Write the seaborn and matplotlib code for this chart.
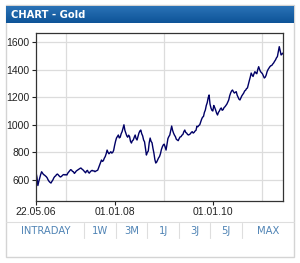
import matplotlib
matplotlib.use("Agg")
import matplotlib.pyplot as plt
import matplotlib.dates as mdates
from matplotlib.patches import Rectangle
from matplotlib.lines import Line2D
import seaborn as sns
import pandas as pd
import numpy as np

# gold price (USD), weekly, 22.05.06 .. early June 2011
prices_2006 = [655, 620, 560, 590, 615, 640, 660, 650, 640, 636, 630, 624, 615, 600, 590, 583,
               578, 590, 600, 615, 625, 630, 640, 643, 635, 628, 622, 625, 632, 638, 640, 636]
prices_2007 = [640, 636, 650, 658, 665, 675, 672, 662, 660, 648, 655, 665, 670, 676, 680, 684,
               687, 680, 675, 668, 660, 652, 665, 670, 655, 650, 660, 666, 670, 665, 667, 660,
               665, 668, 672, 690, 710, 725, 745, 735, 740, 758, 770, 790, 817, 800, 790, 798,
               805, 795, 800, 815]
prices_2008 = [850, 880, 904, 915, 926, 905, 910, 935, 950, 975, 1000, 960, 940, 920, 910, 925,
               915, 880, 868, 885, 890, 910, 926, 900, 890, 915, 940, 955, 962, 935, 920, 890,
               877, 830, 781, 800, 810, 870, 904, 880, 870, 830, 796, 750, 723, 730, 745, 760,
               770, 790, 820, 840, 854]
prices_2009 = [860, 840, 817, 860, 900, 915, 926, 960, 991, 960, 940, 925, 914, 895, 890, 885,
               900, 912, 914, 925, 930, 950, 962, 945, 940, 930, 926, 930, 935, 945, 950, 940,
               945, 955, 960, 990, 986, 995, 1000, 1020, 1040, 1055, 1060, 1090, 1107, 1140, 1160,
               1195, 1216, 1150, 1122, 1105, 1100]
prices_2010 = [1140, 1125, 1107, 1085, 1071, 1090, 1100, 1115, 1122, 1105, 1110, 1125, 1131, 1140,
               1150, 1165, 1180, 1210, 1230, 1245, 1252, 1240, 1230, 1235, 1240, 1215, 1200, 1185,
               1180, 1195, 1210, 1220, 1230, 1245, 1250, 1262, 1267, 1295, 1320, 1345, 1375, 1360,
               1350, 1370, 1385, 1375, 1370, 1400, 1421, 1400, 1385, 1378]
prices_2011 = [1370, 1355, 1339, 1345, 1360, 1385, 1400, 1410, 1421, 1428, 1430, 1440, 1448, 1460,
               1470, 1485, 1494, 1530, 1566, 1535, 1506, 1512, 1520]

start_date = "2006-05-22"
end_date = "2011-06-05"
x_labels = ["22.05.06", "01.01.08", "01.01.10"]
x_label_dates = ["2006-05-22", "2008-01-01", "2010-01-01"]
grid_years = ["2007-01-01", "2008-01-01", "2009-01-01", "2010-01-01", "2011-01-01"]
y_ticks = [600, 800, 1000, 1200, 1400, 1600]
buttons = ["INTRADAY", "1W", "3M", "1J", "3J", "5J", "MAX"]

prices = prices_2006 + prices_2007 + prices_2008 + prices_2009 + prices_2010 + prices_2011
df = pd.DataFrame({"date": pd.date_range(start_date, end_date, periods=len(prices)),
                   "price": prices})

sns.set_style("white")
plt.rcParams['font.family'] = ['Liberation Sans', 'DejaVu Sans']

W, H = 300, 263
fig = plt.figure(figsize=(W / 100, H / 100), dpi=100)

def fx(px):
    return px / W

def fy(py):
    return 1 - py / H

# outer panel border
fig.patches.append(Rectangle((fx(6), fy(257)), fx(288), 252 / H, transform=fig.transFigure,
                             facecolor="none", edgecolor="#d4d4d4", lw=1, zorder=-5))

# header bar with a light gradient
hax = fig.add_axes([fx(6), fy(23), fx(288), 17 / H])
grad = np.linspace(0, 1, 50).reshape(-1, 1)
cmap = matplotlib.colors.LinearSegmentedColormap.from_list("hdr", ["#2a72b6", "#0e5498"])
hax.imshow(grad, aspect="auto", cmap=cmap, extent=[0, 1, 0, 1])
hax.set_axis_off()
hax.text(0.017, 0.5, "CHART - Gold", color="white", fontsize=7.2, fontweight="bold",
         family="DejaVu Sans", va="center", ha="left", transform=hax.transAxes)

# chart
ax = fig.add_axes([fx(36), fy(201), fx(247), 168 / H])
sns.lineplot(data=df, x="date", y="price", ax=ax, color="#000066", lw=1.0)
ax.set_xlim(pd.Timestamp(start_date), pd.Timestamp(end_date))
ax.set_ylim(448, 1665)
ax.set_yticks(y_ticks)
ax.set_yticklabels([str(v) for v in y_ticks])
ax.set_xticks([mdates.date2num(pd.Timestamp(d)) for d in x_label_dates])
ax.set_xticklabels(x_labels)
ax.set_xticks([mdates.date2num(pd.Timestamp(d)) for d in grid_years], minor=True)
ax.set_xlabel("")
ax.set_ylabel("")
ax.grid(False)
ax.grid(True, which="minor", axis="x", color="#dcdcdc", lw=0.9)
ax.grid(True, which="major", axis="y", color="#dcdcdc", lw=0.9)
ax.set_axisbelow(True)
ax.tick_params(axis="both", which="major", direction="out", length=3, width=0.8, color="#222222",
               labelsize=7.5, labelcolor="#222222", pad=1.5)
ax.tick_params(axis="x", which="minor", length=0)
ax.tick_params(left=True, bottom=True)
for s in ax.spines.values():
    s.set_color("#333333")
    s.set_linewidth(0.9)

# button row
fig.add_artist(Line2D([fx(6), fx(294)], [fy(222), fy(222)], color="#dedede", lw=0.8))
seps = [84, 116, 147, 179, 210, 242]
for sx in seps:
    fig.add_artist(Line2D([fx(sx), fx(sx)], [fy(223), fy(238)], color="#dedede", lw=0.8))
centers = [46, 100, 132, 163, 195, 226, 268]
for label, cx in zip(buttons, centers):
    fig.text(fx(cx), fy(230.5), label, color="#5084b5", fontsize=7.2, family="DejaVu Sans",
             ha="center", va="center")

fig.savefig("out.png", dpi=100)
